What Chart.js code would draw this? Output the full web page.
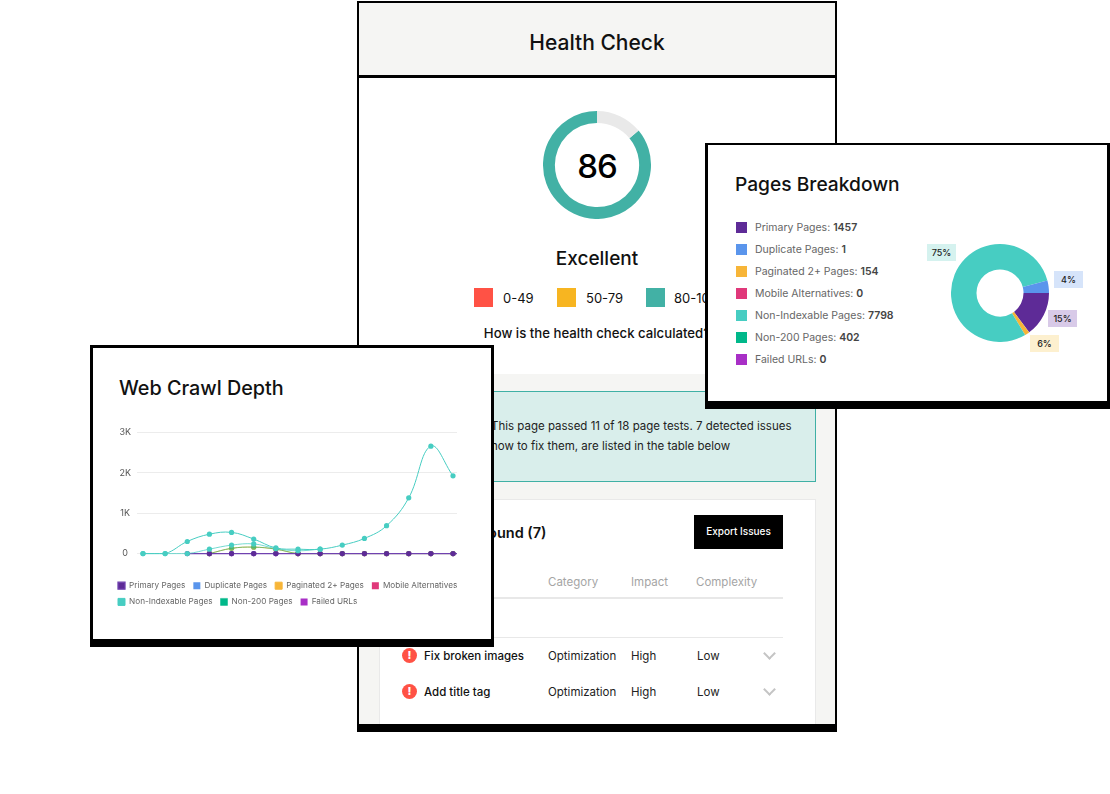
<!DOCTYPE html>
<html>
<head>
<meta charset="utf-8">
<title>Health Check</title>
<script src="https://cdn.jsdelivr.net/npm/chart.js@4"></script>
<style>
    html, body { margin: 0; padding: 0; background: #fff; }
    body { width: 1110px; height: 794px; position: relative; overflow: hidden; font-family: Inter, sans-serif; color: #111; }
    .abs { position: absolute; white-space: nowrap; }
    canvas { position: absolute; }

    /* Health check card */
    #healthCard { position: absolute; left: 357px; top: 1px; width: 480px; height: 731px; box-sizing: border-box; border: solid #000; border-width: 2px 2px 8px 2px; background: #fff; overflow: hidden; }
    #healthHead { position: absolute; left: 0; top: 0; right: 0; height: 72px; background: #f5f5f3; border-bottom: 3px solid #000; text-align: center; line-height: 80px; font-size: 21px; font-weight: 500; }
    #healthBody { position: absolute; left: 0; top: 371px; right: 0; bottom: 0; background: #f5f5f3; }
    #scoreText { left: 0; width: 476px; top: 141px; text-align: center; font-size: 33px; line-height: 44px; font-weight: 500; letter-spacing: -1px; color: #000; }
    #ratingText { left: 0; width: 476px; top: 243px; text-align: center; font-size: 19px; line-height: 26px; font-weight: 500; }
    .bandBox { position: absolute; top: 285px; width: 19px; height: 19px; }
    .bandText { position: absolute; top: 285px; font-size: 13px; line-height: 20px; }
    #calcLink { left: 0; width: 476px; top: 320px; text-align: center; font-size: 13.2px; line-height: 20px; font-weight: 500; }
    #passBox { position: absolute; left: 20px; top: 388px; width: 437px; height: 91px; box-sizing: border-box; background: #d9eeeb; border: 1.5px solid #3fb0a5; }
    .passLine { font-size: 11.5px; line-height: 20px; color: #222; }
    #issuesPanel { position: absolute; left: 20px; top: 496px; width: 437px; height: 240px; box-sizing: border-box; background: #fff; border: 1px solid #e9e9e9; }
    #issuesTitle { left: 72px; top: 520px; font-size: 14.5px; line-height: 20px; font-weight: 600; }
    #exportBtn { position: absolute; left: 335px; top: 512px; width: 89px; height: 34px; background: #000; color: #fff; text-align: center; line-height: 33px; font-size: 10px; font-weight: 500; }
    .colHead { position: absolute; top: 570px; font-size: 11.5px; line-height: 18px; color: #a5a5a5; }
    .rule { position: absolute; left: 21px; width: 403px; height: 1px; background: #e8e8e8; }
    .cell { position: absolute; font-size: 11.5px; line-height: 18px; color: #222; }
    .cell.name { font-weight: 500; color: #111; left: 65px; }
    .alert { position: absolute; left: 43px; width: 15px; height: 15px; border-radius: 50%; background: #ff5245; color: #fff; font-size: 11px; line-height: 15px; font-weight: 800; text-align: center; }
    .chev { position: absolute; left: 406px; width: 7px; height: 7px; border: solid #c4c4c4; border-width: 0 2px 2px 0; transform: rotate(45deg); }

    /* Overlay cards */
    .card { position: absolute; box-sizing: border-box; background: #fff; border: solid #000; border-width: 3px 3px 8px 3px; }
    #crawlCard { left: 90px; top: 345px; width: 404px; height: 302px; }
    #pagesCard { left: 705px; top: 143px; width: 405px; height: 266px; border-top-width: 2px; }
    .cardTitle { line-height: 26px; font-weight: 500; color: #111; }
    #crawlTitle { left: 119px; top: 375px; font-size: 19.8px; }
    #pagesTitle { left: 735px; top: 171px; font-size: 19.2px; }
    .legendBox { position: absolute; left: 736px; width: 11px; height: 11px; }
    .legendText { position: absolute; left: 755px; font-size: 10.5px; line-height: 16px; color: #666; white-space: nowrap; }
    .legendText b { font-weight: 600; color: #444; }
    .pctTag { position: absolute; width: 29px; height: 17px; text-align: center; font-size: 9px; line-height: 17px; font-weight: 500; color: #222; }
</style>
</head>
<body>

<div id="healthCard">
    <div id="healthHead">Health Check</div>
    <div id="scoreText" class="abs"></div>
    <div id="ratingText" class="abs">Excellent</div>
    <div class="bandBox" style="left:115px;background:#ff5245"></div>
    <div class="bandText" style="left:144px">0-49</div>
    <div class="bandBox" style="left:198px;background:#f7b521"></div>
    <div class="bandText" style="left:227px">50-79</div>
    <div class="bandBox" style="left:287px;background:#42b1a5"></div>
    <div class="bandText" style="left:315px">80-100</div>
    <div id="calcLink" class="abs">How is the health check calculated?</div>
    <div id="healthBody"></div>
    <div id="passBox"></div>
    <div class="abs passLine" style="left:132px;top:413px">This page passed 11 of 18 page tests. 7 detected issues</div>
    <div class="abs passLine" style="left:132px;top:433px">how to fix them, are listed in the table below</div>
    <div id="issuesPanel"></div>
    <div id="issuesTitle" class="abs">Issues Found (7)</div>
    <div id="exportBtn">Export Issues</div>
    <div class="colHead" style="left:189px">Category</div>
    <div class="colHead" style="left:272px">Impact</div>
    <div class="colHead" style="left:337px">Complexity</div>
    <div class="rule" style="top:594px;height:2px"></div>
    <div class="rule" style="top:634px"></div>
    <div class="alert" style="top:645px">!</div>
    <div class="cell name" style="top:644px">Fix broken images</div>
    <div class="cell" style="left:189px;top:644px">Optimization</div>
    <div class="cell" style="left:272px;top:644px">High</div>
    <div class="cell" style="left:338px;top:644px">Low</div>
    <div class="chev" style="top:646px"></div>
    <div class="alert" style="top:681px">!</div>
    <div class="cell name" style="top:680px">Add title tag</div>
    <div class="cell" style="left:189px;top:680px">Optimization</div>
    <div class="cell" style="left:272px;top:680px">High</div>
    <div class="cell" style="left:338px;top:680px">Low</div>
    <div class="chev" style="top:682px"></div>
</div>
<canvas id="healthGauge" style="left:543px;top:111px;width:108px;height:108px"></canvas>

<div id="pagesCard" class="card"></div>
<div id="pagesTitle" class="abs cardTitle">Pages Breakdown</div>
<div id="pagesLegend"></div>
<canvas id="pagesChart" style="left:951px;top:244px;width:98px;height:98px"></canvas>
<div id="pagesTags"></div>

<div id="crawlCard" class="card"></div>
<div id="crawlTitle" class="abs cardTitle">Web Crawl Depth</div>
<canvas id="crawlChart" style="left:110px;top:421px;width:360px;height:195px"></canvas>

<script>
// Health score
const healthScore = [86, 14];
const healthColors = ['#42b1a5', '#e9e9e9'];

// Pages breakdown
const pageCategories = ['Primary Pages', 'Duplicate Pages', 'Paginated 2+ Pages', 'Mobile Alternatives', 'Non-Indexable Pages', 'Non-200 Pages', 'Failed URLs'];
const pageCounts = [1457, 1, 154, 0, 7798, 402, 0];
const pageShownPct = ['15%', '', '6%', '', '75%', '4%', ''];
const legendColors = ['#5e2b97', '#5a95ec', '#f7b538', '#e0387a', '#47cdc2', '#00b88a', '#a82fc6'];
const sliceColors = ['#5e2b97', '#5a95ec', '#f7b538', '#e0387a', '#47cdc2', '#5a95ec', '#a82fc6'];

// Web crawl depth, one value per level (index 15 of primary runs off the plot)
const primaryPages = [null, null, 0, 0, 0, 0, 0, 0, 0, 0, 0, 0, 0, 0, 0, 0];
const duplicatePages = [null, null, null, 0, 0, 0, 0, 0, 0, 0, 0, 0, 0, 0, 0];
const paginatedPages = [null, null, null, 0, 130, 160, 110, 0, 0, 0, 0, 0, 0, 0, 0];
const mobileAlternatives = [null, null, null, 0, 0, 0, 0, 0, 0, 0, 0, 0, 0, 0, 0];
const nonIndexablePages = [0, 0, 300, 480, 525, 360, 140, 110, 110, 210, 375, 690, 1380, 2660, 1925];
const nonIndexableLower = [0, 0, 0, 110, 210, 240, 125, 70, 110];
const non200Pages = [null, null, null, 0, 130, 160, 110, 0, 0, 0, 0, 0, 0, 0, 0];
const failedUrls = [null, null, null, 0, 0, 0, 0, 0, 0, 0, 0, 0, 0, 0, 0];
const yTicks = [0, 1000, 2000, 3000];
const yTickLabels = ['0', '1K', '2K', '3K'];

const fontName = 'Inter, sans-serif';

function renderGauge() {
    new Chart(document.getElementById('healthGauge'), {
        type: 'doughnut',
        data: { datasets: [{ data: healthScore, backgroundColor: healthColors, borderWidth: 0 }] },
        options: {
            animation: false,
            responsive: false,
            cutout: '78%',
            rotation: 360 * healthScore[1] / 100,
            plugins: { legend: { display: false }, tooltip: { enabled: false } }
        }
    });
    document.getElementById('scoreText').textContent = healthScore[0];
}

function renderPages() {
    new Chart(document.getElementById('pagesChart'), {
        type: 'doughnut',
        data: {
            labels: pageCategories,
            datasets: [{ data: pageCounts, backgroundColor: sliceColors, borderWidth: 0 }]
        },
        options: {
            animation: false,
            responsive: false,
            cutout: '48%',
            rotation: 90,
            plugins: { legend: { display: false }, tooltip: { enabled: false } }
        }
    });

    // Legend rows
    const legend = document.getElementById('pagesLegend');
    pageCategories.forEach((name, i) => {
        const y = 222 + i * 22;
        legend.innerHTML += `<div class="legendBox" style="top:${y}px;background:${legendColors[i]}"></div>`;
        legend.innerHTML += `<div class="legendText" style="top:${y - 2}px">${name}: <b>${pageCounts[i]}</b></div>`;
    });

    // Percent tags next to the ring
    const tagSpots = { 0: [1048, 310, '#d8cae8'], 2: [1030, 335, '#fdf0cf'], 4: [927, 244, '#d5f2ef'], 5: [1054, 271, '#d6e4fa'] };
    const tags = document.getElementById('pagesTags');
    pageShownPct.forEach((pct, i) => {
        if (!pct) return;
        const [x, y, bg] = tagSpots[i];
        tags.innerHTML += `<div class="pctTag" style="left:${x}px;top:${y}px;background:${bg}">${pct}</div>`;
    });
}

function crawlSeries(label, values, color, order, extra) {
    return Object.assign({
        label: label,
        data: values.map((v, i) => ({ x: i, y: v })),
        borderColor: color,
        backgroundColor: color,
        pointBackgroundColor: color,
        pointBorderWidth: 0,
        pointRadius: 2.6,
        borderWidth: 1,
        tension: 0.4,
        clip: false,
        order: order
    }, extra);
}

function renderCrawl() {
    new Chart(document.getElementById('crawlChart'), {
        type: 'line',
        data: {
            datasets: [
                crawlSeries('Primary Pages', primaryPages, legendColors[0], 2, {
                    borderColor: '#7042b0',
                    borderWidth: 1.3,
                    clip: { left: 0, right: 0, top: 10, bottom: 10 }
                }),
                // zero series sit under the primary line, so no stroke of their own
                crawlSeries('Duplicate Pages', duplicatePages, legendColors[1], 8, { borderWidth: 0 }),
                crawlSeries('Paginated 2+ Pages', paginatedPages, legendColors[2], 5),
                crawlSeries('Mobile Alternatives', mobileAlternatives, legendColors[3], 8, { borderWidth: 0 }),
                crawlSeries('Non-Indexable Pages', nonIndexablePages, legendColors[4], 0),
                crawlSeries('Non-200 Pages', non200Pages, legendColors[5], 4, {
                    borderColor: 'rgba(0,184,138,0.5)',
                    pointBackgroundColor: 'rgba(0,184,138,0.5)'
                }),
                crawlSeries('Failed URLs', failedUrls, legendColors[6], 8, { borderWidth: 0 }),
                crawlSeries('Non-Indexable lower', nonIndexableLower, legendColors[4], 1, { borderColor: 'rgba(71,205,194,0.75)' })
            ]
        },
        options: {
            animation: false,
            responsive: false,
            layout: { padding: { top: 9 } },
            scales: {
                x: {
                    type: 'linear',
                    min: -0.27,
                    max: 14.18,
                    grid: { display: false },
                    border: { display: false },
                    ticks: { display: false },
                    afterFit(scale) { scale.height = 20; }
                },
                y: {
                    min: 0,
                    max: 3000,
                    grid: { color: '#ececec', drawTicks: false, lineWidth: 1 },
                    border: { display: false },
                    afterBuildTicks(scale) { scale.ticks = yTicks.map(v => ({ value: v })); },
                    afterFit(scale) { scale.width = 27; },
                    ticks: {
                        padding: 6,
                        crossAlign: 'center',
                        color: '#555',
                        font: { family: fontName, size: 9 },
                        callback: v => yTickLabels[yTicks.indexOf(v)]
                    }
                },
                rightGap: {
                    position: 'right',
                    grid: { display: false },
                    border: { display: false },
                    ticks: { display: false },
                    afterFit(scale) { scale.width = 13; }
                }
            },
            plugins: {
                tooltip: { enabled: false },
                legend: {
                    position: 'bottom',
                    align: 'start',
                    labels: {
                        boxWidth: 7,
                        boxHeight: 7,
                        padding: 8,
                        color: '#666',
                        font: { family: fontName, size: 8.2 },
                        filter: item => item.datasetIndex < 7,
                        sort: (a, b) => a.datasetIndex - b.datasetIndex
                    }
                }
            }
        }
    });
}

renderGauge();
renderPages();
renderCrawl();
</script>
</body>
</html>
